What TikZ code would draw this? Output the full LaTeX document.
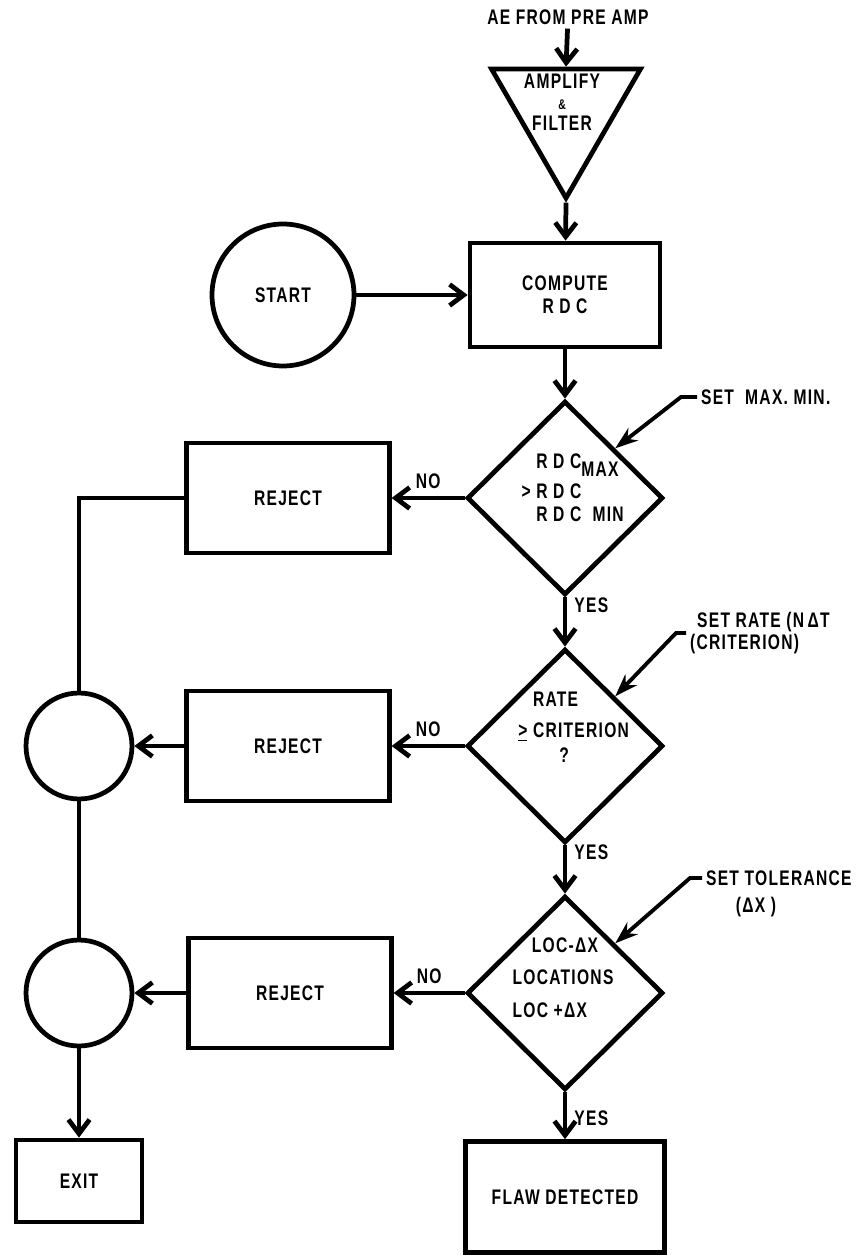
\documentclass[tikz,border=0pt]{standalone}
\usepackage{fontspec}
\setmainfont[FakeStretch=0.74,LetterSpace=6]{Liberation Sans}
\usetikzlibrary{arrows.meta,positioning,shapes.geometric}
\begin{document}
\begin{tikzpicture}[x=0.02cm,y=-0.02cm,line width=2.7pt,>={Straight Barb[length=8pt,width=12pt]},
    font=\bfseries\fontsize{12}{13}\selectfont,
    every node/.style={align=center,inner sep=1pt},
    box/.style={draw,minimum width=4.05cm,minimum height=2.2cm},
    test/.style={draw,diamond,aspect=1,inner sep=0pt,minimum width=3.92cm,minimum height=3.88cm},
    joint/.style={draw,circle,minimum size=2.12cm},
    lead/.style={-{Stealth[length=13pt,width=9pt]},line width=2.2pt}]
  \useasboundingbox (0,0) rectangle (867,1256);
  \node (ae) at (568,17) {AE FROM PRE AMP};
  \node[draw,regular polygon,regular polygon sides=3,shape border rotate=180,minimum size=3.44cm,inner sep=0pt] (amp) at (566,112) {};
  \node (ampt) at (562,102) {AMPLIFY\\[-1pt]{\footnotesize\&}\\[-1pt]FILTER};
  \node[joint,minimum size=2.84cm] (start) at (283,295) {START};
  \node[box,minimum width=3.8cm,minimum height=2.08cm] (rdc) at (565,295) {COMPUTE\\R D C};
  \node[test] (d1) at (565,498) {};
  \node[align=left] (d1t) at (580,488) {R D C\raisebox{-0.7ex}{MAX}\\[4pt]\llap{> }R D C\\[0pt]R D C\ \ MIN};
  \node[test] (d2) at (565,746) {};
  \node[align=left] (d2t) at (581,727) {RATE\\[5pt]\llap{\underline{>}\ }CRITERION\\[1pt]\hspace*{15pt}?};
  \node[test] (d3) at (565,993) {};
  \node[align=left] (d3t) at (563,978) {\hspace*{11pt}LOC-ΔX\\[5pt]LOCATIONS\\[6pt]LOC +ΔX};
  \node[box] (rej1) at (288,498) {REJECT};
  \node[box] (rej2) at (288,746) {REJECT};
  \node[box] (rej3) at (290,993) {REJECT};
  \node[joint] (c1) at (79,746) {};
  \node[joint] (c2) at (79,993) {};
  \node[draw,minimum width=2.52cm,minimum height=1.64cm] (exit) at (79,1181) {EXIT};
  \node[box,minimum width=3.98cm,minimum height=2.22cm] (flaw) at (565,1197) {FLAW DETECTED};
  \node[anchor=west] (setmax) at (697,397) {SET\ \ MAX. MIN.};
  \node[anchor=west,align=left] (setrate) at (686,633) {\hspace*{4pt}SET RATE (N\,ΔT\\(CRITERION)};
  \node[anchor=west] (settol) at (702,878) {SET TOLERANCE};
  \node (tolx) at (756,907) {(ΔX\ )};
  \draw[->] (ae) -- (amp.north);
  \draw[->] (amp.south) -- (rdc);
  \draw[->] (start) -- (rdc);
  \draw[->] (rdc) -- (d1);
  \draw[->] (d1) -- node[pos=0.15,right=3pt]{YES} (d2);
  \draw[->] (d2) -- node[pos=0.15,right=3pt]{YES} (d3);
  \draw[->] (d3) -- node[pos=0.55,right=3pt]{YES} (flaw);
  \draw[->] (d1) -- node[above=3pt]{NO} (rej1);
  \draw[->] (d2) -- node[above=3pt]{NO} (rej2);
  \draw[->] (d3) -- node[above=3pt]{NO} (rej3);
  \draw (rej1) -| (c1);
  \draw[->] (rej2) -- (c1);
  \draw (c1) -- (c2);
  \draw[->] (rej3) -- (c2);
  \draw[->] (c2) -- (exit);
  \draw[lead] (setmax.west) -- ++(-16,0) -- (d1.north east);
  \draw[lead] (setrate.west) -- ++(-10,0) -- (d2.north east);
  \draw[lead] (settol.west) -- ++(-12,0) -- (d3.north east);
\end{tikzpicture}
\end{document}
